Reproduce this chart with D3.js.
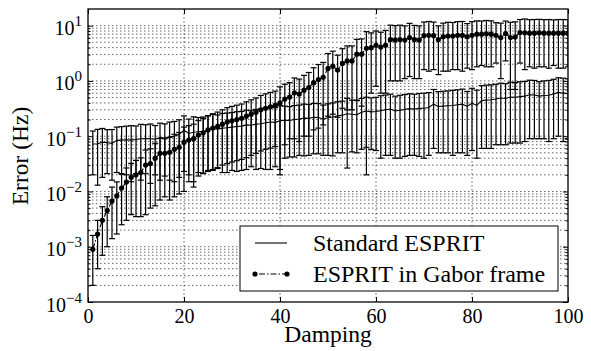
<!DOCTYPE html>
<html>
<head>
<meta charset="utf-8">
<script src="https://cdn.jsdelivr.net/npm/d3@7"></script>
<style>
  body { margin: 0; background: #fff; }
</style>
</head>
<body>
<svg width="591" height="351" font-family="Liberation Serif"></svg>
<script>
// damping values 1..100
const damping = d3.range(1, 101);

const standardMean = [
  0.072,0.073,0.078,0.076,0.074,0.084,0.085,0.086,0.085,0.087,
  0.090,0.091,0.090,0.088,0.094,0.093,0.098,0.100,0.108,0.128,
  0.112,0.118,0.120,0.122,0.128,0.136,0.134,0.140,0.142,0.146,
  0.150,0.152,0.160,0.158,0.165,0.168,0.175,0.180,0.178,0.190,
  0.195,0.192,0.200,0.205,0.212,0.210,0.220,0.218,0.205,0.215,
  0.222,0.235,0.240,0.255,0.250,0.245,0.270,0.285,0.275,0.280,
  0.290,0.300,0.310,0.285,0.295,0.305,0.315,0.310,0.318,0.320,
  0.330,0.380,0.345,0.350,0.355,0.360,0.370,0.380,0.345,0.395,
  0.360,0.440,0.450,0.455,0.470,0.490,0.480,0.510,0.505,0.520,
  0.530,0.560,0.555,0.530,0.545,0.550,0.580,0.620,0.600,0.590
];
const standardStd = [
  0.052,0.060,0.060,0.055,0.058,0.062,0.064,0.066,0.070,0.066,
  0.074,0.070,0.076,0.068,0.078,0.074,0.082,0.085,0.090,0.105,
  0.092,0.106,0.098,0.1005,0.105,0.112,0.108,0.118,0.120,0.122,
  0.127,0.128,0.135,0.130,0.140,0.142,0.150,0.155,0.150,0.165,
  0.155,0.150,0.158,0.160,0.168,0.165,0.172,0.170,0.160,0.170,
  0.178,0.185,0.190,0.2285,0.198,0.195,0.212,0.222,0.218,0.225,
  0.250,0.255,0.265,0.245,0.255,0.262,0.270,0.265,0.275,0.280,
  0.285,0.320,0.295,0.300,0.305,0.315,0.320,0.330,0.300,0.340,
  0.320,0.380,0.390,0.395,0.400,0.420,0.410,0.435,0.430,0.445,
  0.450,0.470,0.465,0.440,0.455,0.470,0.490,0.520,0.520,0.500
];
const gaborMean = [
  0.0009,0.0017,0.0030,0.0045,0.0067,0.0083,0.0115,0.0148,0.018,0.020,
  0.022,0.030,0.032,0.040,0.049,0.049,0.051,0.058,0.063,0.078,
  0.085,0.090,0.105,0.115,0.130,0.140,0.150,0.165,0.180,0.190,
  0.200,0.210,0.230,0.250,0.270,0.300,0.320,0.340,0.360,0.400,
  0.47,0.51,0.61,0.58,0.68,0.76,0.93,1.06,1.16,1.68,
  1.85,1.57,2.07,2.3,2.3,3.05,3.05,3.9,4.0,4.4,
  4.1,4.4,5.6,5.5,5.6,5.5,6.1,5.6,5.5,6.6,
  6.7,6.6,5.6,6.3,6.5,6.5,6.7,6.7,6.3,6.7,
  7.0,7.0,7.1,7.0,6.7,6.1,7.2,6.1,6.2,7.5,
  7.4,7.3,7.3,7.4,7.3,7.3,7.3,7.3,7.3,7.3
];
const gaborStd = [
  0.0007,0.0013,0.0023,0.0035,0.0053,0.0066,0.0090,0.0118,0.0142,0.0165,
  0.0185,0.0262,0.0270,0.0345,0.0420,0.0410,0.0440,0.0500,0.0540,0.0680,
  0.070,0.075,0.086,0.094,0.106,0.115,0.123,0.135,0.148,0.156,
  0.164,0.172,0.189,0.205,0.221,0.246,0.262,0.279,0.295,0.380,
  0.40,0.42,0.52,0.50,0.58,0.66,0.80,0.92,1.00,1.45,
  1.60,1.35,1.75,2.00,2.00,2.60,2.70,3.88,3.40,3.60,
  3.5,3.8,4.6,4.5,4.6,4.4,4.9,4.5,4.4,5.0,
  5.2,5.0,4.3,4.8,5.0,4.9,5.1,5.2,4.6,5.1,
  5.2,5.1,5.3,5.2,4.6,5.0,4.9,5.4,5.5,5.4,
  5.8,5.5,5.6,5.6,5.5,5.6,5.4,5.6,5.6,5.5
];

const xTicks = [0, 20, 40, 60, 80, 100];
const yDecades = [-4, -3, -2, -1, 0, 1];
const seriesNames = ['Standard ESPRIT', 'ESPRIT in Gabor frame'];

const FONT = 'Liberation Serif';
const svg = d3.select('svg');
const L = 88, R = 568, T = 9, B = 302;

const x = d3.scaleLinear().domain([0, 100]).range([L, R]);
const y = d3.scaleLog().domain([1e-4, 20]).range([B, T]);

const majorY = yDecades.map(e => Math.pow(10, e));
const allY = y.ticks().filter(v => v > 1e-4 && v < 20);
const minorY = allY.filter(v => !majorY.some(m => Math.abs(v / m - 1) < 1e-6));

// grille
const grid = svg.append('g')
  .attr('stroke', '#000')
  .attr('stroke-width', 0.6)
  .attr('stroke-dasharray', '1.5,2.5');
grid.selectAll('line.h').data(allY).join('line').attr('class', 'h')
  .attr('x1', L).attr('x2', R)
  .attr('y1', d => y(d)).attr('y2', d => y(d));
grid.selectAll('line.v').data(xTicks.slice(1, -1)).join('line').attr('class', 'v')
  .attr('y1', T).attr('y2', B)
  .attr('x1', d => x(d)).attr('x2', d => x(d));

svg.append('clipPath').attr('id', 'clip')
  .append('rect').attr('x', L).attr('y', T).attr('width', R - L).attr('height', B - T);

const plot = svg.append('g').attr('clip-path', 'url(#clip)');

function drawBars(mean, std) {
  const rows = damping.map((d, i) => ({ x: d, lo: Math.max(mean[i] - std[i], 1e-9), hi: mean[i] + std[i] }));
  const g = plot.append('g').attr('stroke', '#000').attr('stroke-width', 1.2);
  g.selectAll('line.bar').data(rows).join('line').attr('class', 'bar')
    .attr('x1', d => x(d.x)).attr('x2', d => x(d.x))
    .attr('y1', d => Math.min(y(d.lo), B + 5)).attr('y2', d => y(d.hi));
  g.selectAll('line.top').data(rows).join('line').attr('class', 'top')
    .attr('x1', d => x(d.x) - 3).attr('x2', d => x(d.x) + 3)
    .attr('y1', d => y(d.hi)).attr('y2', d => y(d.hi));
  g.selectAll('line.bot').data(rows).join('line').attr('class', 'bot')
    .attr('x1', d => x(d.x) - 3).attr('x2', d => x(d.x) + 3)
    .attr('y1', d => y(d.lo)).attr('y2', d => y(d.lo));
}

drawBars(standardMean, standardStd);
drawBars(gaborMean, gaborStd);

const line = d3.line().x(d => x(d[0])).y(d => y(d[1]));

plot.append('path')
  .datum(damping.map((d, i) => [d, standardMean[i]]))
  .attr('d', line)
  .attr('fill', 'none').attr('stroke', '#000').attr('stroke-width', 1.1);

plot.append('path')
  .datum(damping.map((d, i) => [d, gaborMean[i]]))
  .attr('d', line)
  .attr('fill', 'none').attr('stroke', '#000').attr('stroke-width', 1.1)
  .attr('stroke-dasharray', '6,2,1.5,2');

plot.selectAll('circle.g').data(damping).join('circle').attr('class', 'g')
  .attr('cx', d => x(d)).attr('cy', (d, i) => y(gaborMean[i]))
  .attr('r', 2.6).attr('fill', '#000');

// axes
function styleAxis(g) {
  g.attr('font-family', FONT);
  g.select('.domain').remove();
  g.selectAll('.tick line').attr('stroke', '#000').attr('stroke-width', 1);
  g.selectAll('text').attr('font-family', FONT).attr('fill', '#000');
}

svg.append('g').attr('transform', `translate(0,${B})`)
  .call(d3.axisBottom(x).tickValues(xTicks).tickSizeInner(-5).tickSizeOuter(0).tickPadding(7))
  .call(styleAxis)
  .call(g => g.selectAll('text').attr('font-size', 20));

svg.append('g').attr('transform', `translate(0,${T})`)
  .call(d3.axisTop(x).tickValues(xTicks).tickSizeInner(-5).tickSizeOuter(0).tickFormat(''))
  .call(styleAxis);

const yl = svg.append('g').attr('transform', `translate(${L},0)`)
  .call(d3.axisLeft(y).tickValues(majorY).tickSizeInner(-5).tickSizeOuter(0).tickPadding(6))
  .call(styleAxis);
yl.selectAll('text')
  .attr('font-size', 20)
  .attr('dy', 9)
  .each(function(d) {
    const t = d3.select(this).text(null);
    t.append('tspan').text('10');
    t.append('tspan').attr('font-size', 15).attr('dy', -9)
      .text(String(Math.round(Math.log10(d))).replace('-', '\u2212'));
  });

svg.append('g').attr('transform', `translate(${L},0)`)
  .call(d3.axisLeft(y).tickValues(minorY).tickSizeInner(-2.5).tickSizeOuter(0).tickFormat(''))
  .call(styleAxis);
svg.append('g').attr('transform', `translate(${R},0)`)
  .call(d3.axisRight(y).tickValues(majorY).tickSizeInner(-5).tickSizeOuter(0).tickFormat(''))
  .call(styleAxis);
svg.append('g').attr('transform', `translate(${R},0)`)
  .call(d3.axisRight(y).tickValues(minorY).tickSizeInner(-2.5).tickSizeOuter(0).tickFormat(''))
  .call(styleAxis);

// cadre
svg.append('rect').attr('x', L).attr('y', T).attr('width', R - L).attr('height', B - T)
  .attr('fill', 'none').attr('stroke', '#000').attr('stroke-width', 1.3);

// titres des axes
svg.append('text').attr('x', (L + R) / 2).attr('y', 342)
  .attr('font-family', FONT).attr('text-anchor', 'middle').attr('font-size', 23.5).text('Damping');
svg.append('text').attr('transform', 'translate(28,156) rotate(-90)')
  .attr('font-family', FONT).attr('text-anchor', 'middle').attr('font-size', 23.5).text('Error (Hz)');

// légende
const leg = svg.append('g');
leg.append('rect').attr('x', 240).attr('y', 226).attr('width', 318).attr('height', 65)
  .attr('fill', '#fff').attr('stroke', '#000').attr('stroke-width', 1);
leg.append('line').attr('x1', 255).attr('x2', 287).attr('y1', 243).attr('y2', 243)
  .attr('stroke', '#000').attr('stroke-width', 1.1);
leg.append('line').attr('x1', 255).attr('x2', 287).attr('y1', 274).attr('y2', 274)
  .attr('stroke', '#000').attr('stroke-width', 1.1).attr('stroke-dasharray', '6,2,1.5,2')
  .attr('stroke-dashoffset', -4);
leg.selectAll('circle').data([255, 287]).join('circle')
  .attr('cx', d => d).attr('cy', 274).attr('r', 2.6).attr('fill', '#000');
leg.selectAll('text.lab').data(seriesNames).join('text').attr('class', 'lab')
  .attr('x', 313).attr('y', (d, i) => 251 + i * 31)
  .attr('font-family', FONT).attr('font-size', 24).text(d => d);
</script>
</body>
</html>
